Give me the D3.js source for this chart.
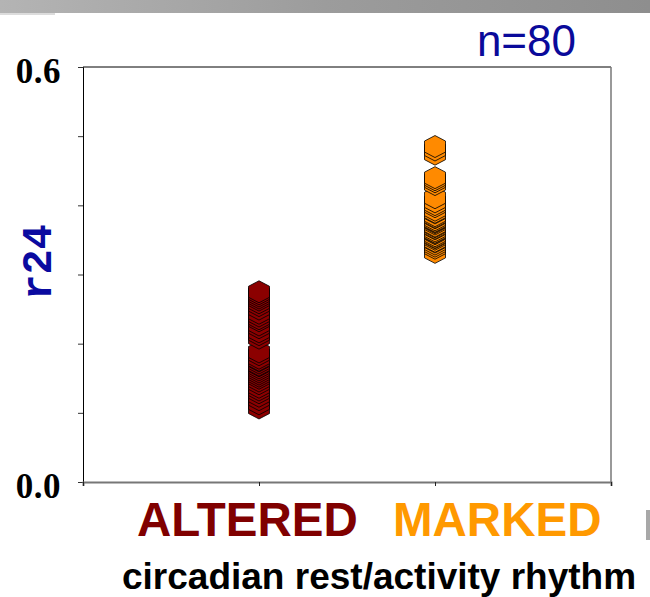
<!DOCTYPE html>
<html>
<head>
<meta charset="utf-8">
<script src="https://cdn.jsdelivr.net/npm/d3@7"></script>
<style>
  html, body { margin: 0; padding: 0; background: #fff; }
  svg { display: block; }
</style>
</head>
<body>
<svg id="chart" width="650" height="597"></svg>
<script>
// ---- data ----
const categories = ["ALTERED", "MARKED"];
const categoryPos = [1, 2];
const alteredValues = [0.275, 0.272, 0.269, 0.266, 0.263, 0.259, 0.255, 0.250, 0.244, 0.240,
  0.236, 0.233, 0.227, 0.223, 0.217, 0.213, 0.208, 0.188, 0.184, 0.179,
  0.176, 0.175, 0.172, 0.169, 0.168, 0.165, 0.162, 0.159, 0.156, 0.153,
  0.150, 0.146, 0.142, 0.137, 0.133, 0.129, 0.124, 0.119, 0.113, 0.107];
const markedValues = [0.485, 0.480, 0.474, 0.440, 0.437, 0.434, 0.430, 0.411, 0.405, 0.401,
  0.398, 0.393, 0.390, 0.389, 0.385, 0.383, 0.382, 0.379, 0.377, 0.376,
  0.375, 0.373, 0.370, 0.369, 0.367, 0.366, 0.363, 0.361, 0.360, 0.359,
  0.356, 0.354, 0.353, 0.351, 0.348, 0.347, 0.344, 0.341, 0.338, 0.332];
const yTicks = [0, 0.1, 0.2, 0.3, 0.4, 0.5, 0.6];
const yTickLabels = {"0": "0.0", "0.6": "0.6"};
const xTicks = [0, 1, 2, 3];
const nLabel = "n=80";
const yTitle = "r24";
const xTitle = "circadian rest/activity rhythm";

const svg = d3.select("#chart");

// slide header band
const defs = svg.append("defs");
const grad = defs.append("linearGradient").attr("id", "band").attr("x1", "0").attr("x2", "1");
grad.append("stop").attr("offset", "0").attr("stop-color", "#b4b4b4");
grad.append("stop").attr("offset", "0.5").attr("stop-color", "#9c9c9c");
grad.append("stop").attr("offset", "1").attr("stop-color", "#8e8e8e");
svg.append("rect").attr("x", 0).attr("y", 0).attr("width", 650).attr("height", 13).attr("fill", "url(#band)");
svg.append("rect").attr("x", 0).attr("y", 13).attr("width", 55).attr("height", 2).attr("fill", "#dcdcdc");
svg.append("rect").attr("x", 646).attr("y", 510).attr("width", 4).attr("height", 30).attr("fill", "#a8a8a8");

// scales
const x = d3.scaleLinear().domain([0, 3]).range([83, 611]);
const y = d3.scaleLinear().domain([0, 0.6]).range([482, 67]);

// frame
const g = svg.append("g");
g.append("line").attr("x1", x(0)).attr("x2", x(3)).attr("y1", y(0.6)).attr("y2", y(0.6))
  .attr("stroke", "#000").attr("stroke-width", 1);
g.append("line").attr("x1", x(3)).attr("x2", x(3)).attr("y1", y(0.6)).attr("y2", y(0))
  .attr("stroke", "#777").attr("stroke-width", 1.5);

// y axis
const yAxis = d3.axisLeft(y).tickValues(yTicks).tickSize(5)
  .tickFormat(d => yTickLabels[String(d)] || "");
const yg = g.append("g").attr("transform", `translate(${x(0)},0)`).call(yAxis);
yg.select(".domain").attr("stroke", "#000").attr("stroke-width", 1);
yg.selectAll(".tick line").attr("stroke", "#333");
yg.selectAll(".tick text")
  .attr("font-family", "'Liberation Serif', 'Times New Roman', serif")
  .attr("font-weight", "bold").attr("font-size", 35).attr("fill", "#000")
  .attr("letter-spacing", 0.5)
  .attr("x", -22).attr("dy", "0.45em");

// x axis
const xAxis = d3.axisBottom(x).tickValues(xTicks).tickSize(4).tickFormat("");
const xg = g.append("g").attr("transform", `translate(0,${y(0)})`).call(xAxis);
xg.select(".domain").attr("stroke", "#777").attr("stroke-width", 2);
xg.selectAll(".tick line").attr("stroke", "#222");

// hexagon markers
const hex = "M0,-11L10.5,-5.5L10.5,5.5L0,11L-10.5,5.5L-10.5,-5.5Z";
const groups = [
  {name: categories[0], pos: categoryPos[0], values: alteredValues, fill: "#8b0000"},
  {name: categories[1], pos: categoryPos[1], values: markedValues, fill: "#ff8a00"}
];
groups.forEach(grp => {
  const vals = grp.values.slice().sort((a, b) => a - b); // higher drawn last (on top)
  g.append("g").selectAll("path").data(vals).join("path")
    .attr("d", hex)
    .attr("transform", d => `translate(${x(grp.pos)},${y(d)})`)
    .attr("fill", grp.fill)
    .attr("stroke", "#000").attr("stroke-width", 0.8);
});

// texts
svg.append("text").attr("x", 576).attr("y", 56).attr("text-anchor", "end")
  .attr("font-family", "'Liberation Sans', Arial, sans-serif").attr("font-size", 44)
  .attr("fill", "#0a0a9a").text(nLabel);

svg.append("text").attr("transform", "translate(51,262) rotate(-90)")
  .attr("text-anchor", "middle")
  .attr("font-family", "'Liberation Mono', 'Courier New', monospace").attr("font-weight", "bold")
  .attr("font-size", 42).attr("fill", "#0a0aa0").text(yTitle);

svg.append("text").attr("x", 137).attr("y", 536)
  .attr("font-family", "'Liberation Sans', Arial, sans-serif").attr("font-weight", "bold")
  .attr("font-size", 47.5).attr("fill", "#800000").text(categories[0]);
svg.append("text").attr("x", 393).attr("y", 536)
  .attr("font-family", "'Liberation Sans', Arial, sans-serif").attr("font-weight", "bold")
  .attr("font-size", 47.5).attr("fill", "#ff9900").text(categories[1]);

svg.append("text").attr("x", 122).attr("y", 589)
  .attr("font-family", "'Liberation Sans', Arial, sans-serif").attr("font-weight", "bold")
  .attr("font-size", 37).attr("fill", "#000").text(xTitle);
</script>
</body>
</html>
